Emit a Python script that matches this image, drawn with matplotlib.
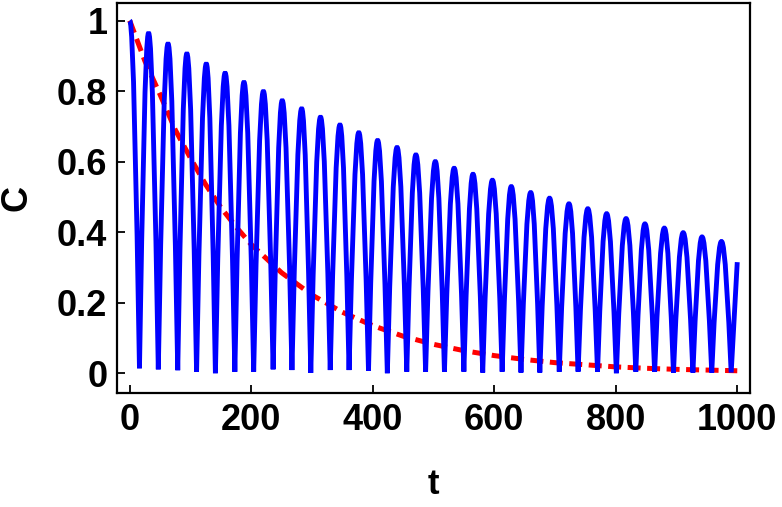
import matplotlib

matplotlib.use("Agg")
import matplotlib.pyplot as plt  # noqa: E402
from matplotlib.path import Path  # noqa: E402
from matplotlib.patches import PathPatch  # noqa: E402

# blue oscillating curve: peak / dip positions and heights
peak_t = [0, 31, 63, 94, 126, 157, 188, 220, 251, 283, 314, 346, 377, 408,
          440, 471, 503, 534, 565, 597, 628, 660, 691, 723, 754, 785, 817,
          848, 880, 911, 942, 974]
peak_c = [1.0, 0.965, 0.935, 0.907, 0.878, 0.852, 0.826, 0.800, 0.774,
          0.751, 0.727, 0.705, 0.683, 0.661, 0.641, 0.620, 0.601, 0.582,
          0.565, 0.548, 0.530, 0.513, 0.497, 0.481, 0.467, 0.453, 0.439,
          0.424, 0.412, 0.399, 0.387, 0.374]
dip_t = [16, 47, 79, 110, 141, 173, 204, 236, 267, 298, 330, 361, 393, 424,
         456, 487, 518, 550, 581, 613, 644, 675, 707, 738, 770, 801, 833,
         864, 895, 927, 958, 990]
dip_c = [0.014, 0.011, 0.0085, 0.004, 0.0, 0.004, 0.0045, 0.011, 0.009,
         0.001, 0.009, 0.009, 0.007, 0.0, 0.0045, 0.0045, 0.0045, 0.0045,
         0.002, 0.0045, 0.002, 0.002, 0.0045, 0.0045, 0.0045, 0.0, 0.0045,
         0.0045, 0.002, 0.002, 0.002, 0.002]
end_t, end_c = 1000, 0.315

# red dashed decay curve
decay_t = [0, 25, 50, 75, 100, 125, 150, 175, 200, 250, 300, 350, 400, 450,
           500, 550, 600, 650, 700, 750, 800, 850, 900, 950, 1000]
decay_c = [1.0, 0.885, 0.79, 0.69, 0.61, 0.535, 0.47, 0.415, 0.365, 0.285,
           0.222, 0.173, 0.135, 0.105, 0.082, 0.064, 0.05, 0.039, 0.03,
           0.024, 0.018, 0.014, 0.011, 0.009, 0.007]

x_ticks = [0, 200, 400, 600, 800, 1000]
x_labels = ["0", "200", "400", "600", "800", "1000"]
y_ticks = [0, 0.2, 0.4, 0.6, 0.8, 1.0]
y_labels = ["0", "0.2", "0.4", "0.6", "0.8", "1"]

# control-point fractions of a cubic Bezier fitting a quarter sine wave
U1, U2, V1 = 0.3261, 0.6381, 0.5123


def oscillation_path():
    verts = [(peak_t[0], peak_c[0])]
    codes = [Path.MOVETO]
    for i in range(len(peak_t)):
        tp, a = peak_t[i], peak_c[i]
        td, d = dip_t[i], dip_c[i]
        h = td - tp
        verts += [(tp + (1 - U2) * h, a), (tp + (1 - U1) * h, d + V1 * (a - d)),
                  (td, d)]
        codes += [Path.CURVE4] * 3
        if i + 1 < len(peak_t):
            tn, an = peak_t[i + 1], peak_c[i + 1]
            h = tn - td
            verts += [(td + U1 * h, d + V1 * (an - d)), (td + U2 * h, an),
                      (tn, an)]
            codes += [Path.CURVE4] * 3
    verts.append((end_t, end_c))
    codes.append(Path.LINETO)
    return Path(verts, codes)


def main():
    plt.rcParams["font.family"] = ["Liberation Sans", "DejaVu Sans"]
    plt.rcParams["font.weight"] = "bold"

    fig = plt.figure(figsize=(7.82, 5.07), dpi=100)
    ax = fig.add_axes([0.1496, 0.2249, 0.8095, 0.7692])

    ax.plot(decay_t, decay_c, color="red", lw=3.6, dashes=(2.6, 1.3),
            dash_capstyle="butt", zorder=2)
    ax.add_patch(PathPatch(oscillation_path(), fill=False, edgecolor="blue",
                           lw=3.5, joinstyle="bevel", capstyle="butt",
                           zorder=3))

    ax.set_xlim(-21, 1021)
    ax.set_ylim(-0.056, 1.05)
    ax.set_xticks(x_ticks, x_labels)
    ax.set_yticks(y_ticks, y_labels)
    ax.tick_params(direction="in", length=5.8, width=1.3, labelsize=26,
                   pad=7, top=False, right=False)
    for s in ax.spines.values():
        s.set_linewidth(1.6)
    ax.set_xlabel("t", fontsize=25, fontweight="bold", labelpad=22)
    ax.set_ylabel("C", fontsize=26, fontweight="bold", labelpad=16)

    fig.savefig("out.png", dpi=100)


if __name__ == "__main__":
    main()
